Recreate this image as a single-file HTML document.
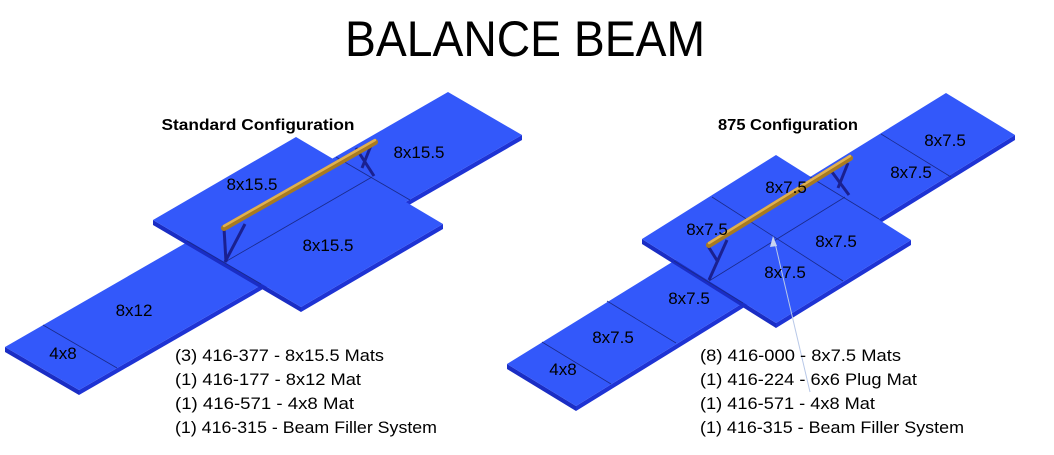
<!DOCTYPE html>
<html><head><meta charset="utf-8"><style>
html,body{margin:0;padding:0;background:#fff;}
svg{display:block;}
text{font-family:"Liberation Sans",sans-serif;fill:#000;}
</style></head><body>
<svg width="1054" height="455" viewBox="0 0 1054 455" xmlns="http://www.w3.org/2000/svg">
<text x="525" y="56" font-size="50" text-anchor="middle" textLength="360" lengthAdjust="spacingAndGlyphs">BALANCE BEAM</text>

<!-- LEFT -->
<g>
<polygon points="5,347 79,390 79,395 5,352" fill="#1a2dc4"/>
<polygon points="79,390 522,135 522,140 79,395" fill="#1e33d4"/>
<polygon points="5,347 448,92 522,135 79,390" fill="#3358fa"/>
<polygon points="153,220 301,307 301,312 153,225" fill="#1a2dc4"/>
<polygon points="301,307 443,224 443,229 301,312" fill="#1e33d4"/>
<polygon points="153,220 296,137 443,224 301,307" fill="#3358fa"/>
<g stroke="#1a2a8a" stroke-width="0.8" fill="none">
<line x1="43" y1="325" x2="117" y2="368"/>
<line x1="187" y1="241" x2="261" y2="284"/>
<line x1="336" y1="157" x2="410" y2="200"/>
<line x1="225" y1="262" x2="372" y2="177"/>
</g>
<g stroke="#1a2090" stroke-width="3" fill="none">
<line x1="245" y1="224" x2="225" y2="262"/>
<line x1="224" y1="228" x2="226" y2="262"/>
<line x1="372" y1="143" x2="362" y2="168"/>
<line x1="356" y1="148" x2="374" y2="176"/>
</g>
<line x1="224" y1="228" x2="375" y2="142" stroke="#a87a20" stroke-width="6" stroke-linecap="round"/>
<line x1="224" y1="226" x2="375" y2="140" stroke="#e0b050" stroke-width="2.5" stroke-linecap="round"/>
<g font-size="17" text-anchor="middle">
<text x="419" y="158">8x15.5</text>
<text x="252" y="190">8x15.5</text>
<text x="328" y="251">8x15.5</text>
<text x="134" y="316">8x12</text>
<text x="63" y="359">4x8</text>
</g>
<text x="258" y="130" font-size="15.5" font-weight="bold" text-anchor="middle" textLength="193" lengthAdjust="spacingAndGlyphs">Standard Configuration</text>
<g font-size="16.5">
<text x="175" y="361" textLength="209" lengthAdjust="spacingAndGlyphs">(3) 416-377 - 8x15.5 Mats</text>
<text x="175" y="385" textLength="186" lengthAdjust="spacingAndGlyphs">(1) 416-177 - 8x12 Mat</text>
<text x="175" y="409" textLength="179" lengthAdjust="spacingAndGlyphs">(1)  416-571 - 4x8 Mat</text>
<text x="175" y="433" textLength="262" lengthAdjust="spacingAndGlyphs">(1) 416-315 - Beam Filler System</text>
</g>
</g>

<!-- RIGHT -->
<g>
<polygon points="507,364 576,406 576,411 507,369" fill="#1a2dc4"/>
<polygon points="576,406 1015,135 1015,140 576,411" fill="#1e33d4"/>
<polygon points="507,364 946,93 1015,135 576,406" fill="#3358fa"/>
<polygon points="642,239 776,323 776,328 642,244" fill="#1a2dc4"/>
<polygon points="776,323 911,240 911,245 776,328" fill="#1e33d4"/>
<polygon points="642,239 776,155 911,240 776,323" fill="#3358fa"/>
<g stroke="#1a2a8a" stroke-width="0.8" fill="none">
<line x1="542" y1="342" x2="611" y2="384"/>
<line x1="607" y1="301" x2="676" y2="343"/>
<line x1="674" y1="261" x2="743" y2="303"/>
<line x1="810" y1="177" x2="879" y2="219"/>
<line x1="881" y1="134" x2="951" y2="177"/>
<line x1="712" y1="197" x2="843" y2="281"/>
<line x1="709" y1="281" x2="845" y2="197"/>
</g>
<line x1="810" y1="392" x2="775" y2="243" stroke="#b8c8e8" stroke-width="1"/>
<polygon points="773,236 770,247 777,246" fill="#c8d4f0"/>
<g stroke="#1a2090" stroke-width="3" fill="none">
<line x1="727" y1="240" x2="709" y2="280"/>
<line x1="708" y1="246" x2="718" y2="262"/>
<line x1="848" y1="163" x2="838" y2="188"/>
<line x1="832" y1="172" x2="849" y2="195"/>
</g>
<line x1="709" y1="245" x2="850" y2="158" stroke="#a87a20" stroke-width="6" stroke-linecap="round"/>
<line x1="709" y1="243" x2="850" y2="156" stroke="#e0b050" stroke-width="2.5" stroke-linecap="round"/>
<g font-size="17" text-anchor="middle">
<text x="945" y="146">8x7.5</text>
<text x="911" y="178">8x7.5</text>
<text x="786" y="193">8x7.5</text>
<text x="707" y="235">8x7.5</text>
<text x="836" y="247">8x7.5</text>
<text x="785" y="278">8x7.5</text>
<text x="689" y="304">8x7.5</text>
<text x="613" y="343">8x7.5</text>
<text x="563" y="375">4x8</text>
</g>
<text x="788" y="130" font-size="15.5" font-weight="bold" text-anchor="middle" textLength="140" lengthAdjust="spacingAndGlyphs">875 Configuration</text>
<g font-size="16.5">
<text x="700" y="361" textLength="201" lengthAdjust="spacingAndGlyphs">(8) 416-000 - 8x7.5 Mats</text>
<text x="700" y="385" textLength="217" lengthAdjust="spacingAndGlyphs">(1) 416-224 - 6x6 Plug Mat</text>
<text x="700" y="409" textLength="175" lengthAdjust="spacingAndGlyphs">(1) 416-571 - 4x8 Mat</text>
<text x="700" y="433" textLength="264" lengthAdjust="spacingAndGlyphs">(1) 416-315 - Beam Filler System</text>
</g>
</g>
</svg>
</body></html>
